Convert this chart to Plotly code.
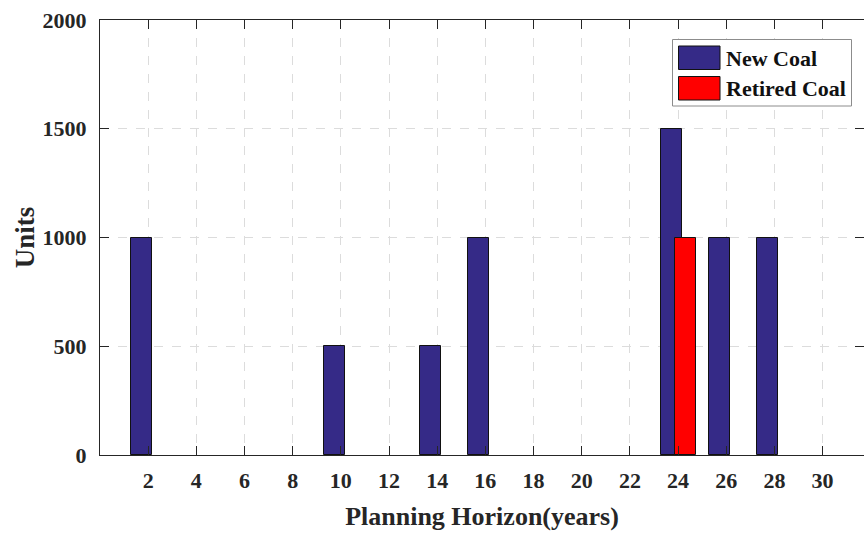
import plotly.graph_objects as go

# Planning horizon years and unit counts per series
years = [2, 4, 6, 8, 10, 12, 14, 16, 18, 20, 22, 24, 26, 28, 30]
new_coal = [1000, 0, 0, 0, 500, 0, 500, 1000, 0, 0, 0, 1500, 1000, 1000, 0]
retired_coal = [0, 0, 0, 0, 0, 0, 0, 0, 0, 0, 0, 1000, 0, 0, 0]
y_ticks = [0, 500, 1000, 1500, 2000]

series_names = ["New Coal", "Retired Coal"]
series_colors = ["#352A87", "#FF0000"]

FONT = "Liberation Serif"
BAR_W = 0.885

fig = go.Figure()
for name, vals, color, off in [
    (series_names[0], new_coal, series_colors[0], -0.72),
    (series_names[1], retired_coal, series_colors[1], -0.14),
]:
    fig.add_trace(go.Bar(
        x=years, y=vals, name=name,
        width=BAR_W, offset=off,
        marker=dict(color=color,
                    line=dict(color="#111111",
                              width=[1 if v else 0 for v in vals])),
        showlegend=False,
    ))

axis_common = dict(
    showline=True, linecolor="#262626", linewidth=1, mirror="allticks",
    ticks="inside", ticklen=9, tickcolor="#262626", tickwidth=1,
    showgrid=True, gridcolor="#dcdcdc", griddash="dash", gridwidth=1,
    zeroline=False,
)

fig.update_layout(
    width=864, height=534,
    margin=dict(l=100, r=0, t=20, b=79),
    paper_bgcolor="white", plot_bgcolor="white",
    barmode="overlay",
    bargap=0,
    xaxis=dict(
        axis_common,
        range=[0, 31.72], tickmode="array", tickvals=years,
        ticktext=[str(v) for v in years],
        ticklabelstandoff=6,
        tickfont=dict(family=FONT, size=22, color="#262626", weight="bold"),
        title=dict(text="<b>Planning Horizon(years)</b>",
                   font=dict(family=FONT, size=26, color="#262626"), standoff=14),
    ),
    yaxis=dict(
        axis_common,
        range=[0, 2000], tickmode="array", tickvals=y_ticks,
        ticktext=[str(v) for v in y_ticks],
        ticklabelstandoff=8,
        tickfont=dict(family=FONT, size=22, color="#262626", weight="bold"),
        title=dict(text="<b>Units</b>",
                   font=dict(family=FONT, size=27, color="#262626"), standoff=0),
    ),
    font=dict(family=FONT, color="#262626"),
)

# Legend box placed in pixel-aligned paper coordinates
L, T, B, R = 100, 20, 455, 864
PW, PH = R - L, B - T

def px_x(x):
    return (x - L) / PW

def px_y(y):
    return (B - y) / PH

fig.add_shape(type="rect", xref="paper", yref="paper",
              x0=px_x(672.5), x1=px_x(851.5), y0=px_y(106), y1=px_y(39.5),
              line=dict(color="#8c8c8c", width=1), fillcolor="white", layer="above")
rows = [(46, 69.5, 58.3), (76.5, 100, 88.3)]
for (top, bot, cy), name, color in zip(rows, series_names, series_colors):
    fig.add_shape(type="rect", xref="paper", yref="paper",
                  x0=px_x(678.5), x1=px_x(720), y0=px_y(bot), y1=px_y(top),
                  line=dict(color="#111111", width=1), fillcolor=color, layer="above")
    fig.add_annotation(xref="paper", yref="paper", x=px_x(724), y=px_y(cy),
                       text=f"<b>{name}</b>", showarrow=False,
                       xanchor="left", yanchor="middle",
                       font=dict(family=FONT, size=22, color="#111111"))

fig.write_html("out.html")
